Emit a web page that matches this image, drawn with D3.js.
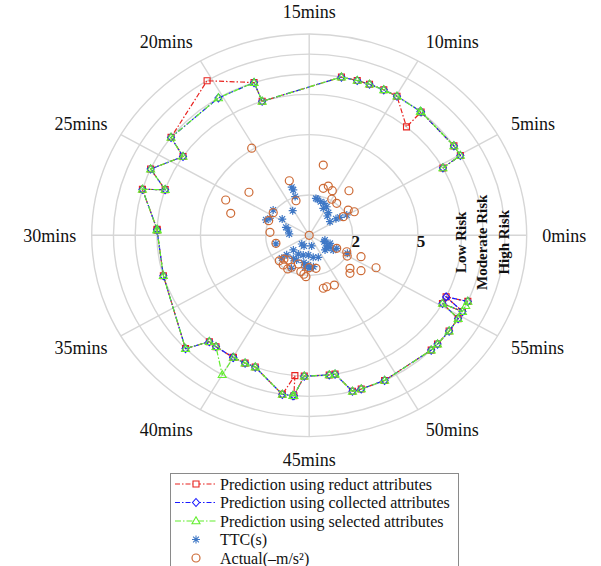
<!DOCTYPE html>
<html><head><meta charset="utf-8">
<script src="https://cdn.jsdelivr.net/npm/d3@7"></script>
<style>body{margin:0;background:#fff}svg{display:block}</style>
</head><body>
<svg id="chart" width="601" height="566"></svg>
<script>
// ---- data (time in minutes, radial value) ----
const eventTimes = [4.76,4.95,5.62,8.33,8.38,9.95,10.77,11.62,12.33,13.22,18.0,18.08,20.24,23.76,24.33,25.95,26.85,27.24,29.6,29.65,32.78,37.45,38.17,38.71,40.0,40.02,40.85,41.54,43.52,44.1,44.16,44.69,46.26,46.63,47.4,47.9,49.28,52.42,52.92,53.92,54.81,55.18,55.29,55.68,55.96];
const reductPred   = [7,8,8,8,7,8,8,8,8,8,7,8,9,8,7,8,7,8,7,7,7,8,7,7,7,7,7,7,8,7,8,7,7,7,8,8,8,8,8,8,8,7,8,7,8];
const collectedPred= [7,8,8,8,8,8,8,8,8,8,7,8,8,8,7,8,7,8,7,7,7,8,7,7,7,7,7,7,8,8,8,7,7,7,8,8,8,8,8,8,8,7,8,7,8];
const selectedPred = [7,8,8,8,8,8,8,8,8,8,7,8,8,8,7,8,7,8,7,7,7,8,7,7,8,7,7,7,8,8,8,7,7,7,8,8,8,8,8,8,8,7,8,8,8];
const ttcTimes  = [18.1,18.0,18.1,20.3,23.8,26.5,25.8,24.5,26.6,27.45,29.3,32.6,13.0,13.4,12.07,11.13,10.08,10.7,8.67,8.17,5.88,5.63,5.38,5.05,38.6,41.0,47.0,55.9,54.4,54.7,54.4,52.5,55.5,55.5,37.5,40.3,42.4,44.6,46.6,48.5,39.6,40.8,43.3,44.7,46.2,40.6,43.85,45.2,37.2,37.0,57.0,56.2,53.5];
const ttcValues = [2.52,2.37,2.03,1.44,2.08,2.13,1.99,1.48,1.14,1.0,0.92,1.59,1.83,1.86,1.75,1.73,1.63,1.49,1.43,1.27,1.17,1.48,1.67,2.0,0.55,0.58,0.54,0.76,0.96,1.13,1.33,1.03,1.42,1.97,1.03,1.06,1.02,0.98,1.11,1.17,1.36,1.36,1.38,1.48,1.57,1.83,1.6,1.64,1.42,1.7,0.76,1.04,1.03];
const actualTimes  = [20.24,13.25,18.11,23.72,25.91,27.19,24.3,18.24,29.21,32.43,26.45,0,12.41,11.71,10.73,8.41,9.99,8.58,5.83,4.91,5.08,55.78,55.99,55.39,53.14,52.47,53.93,47.31,47.92,49.18,55.49,54.9,37.1,37.6,38.65,38.5,41.8,39.9,40.5,43.0,44.3,43.8,46.8,44.95];
const actualValues = [5.07,3.55,2.86,3.5,4.22,3.77,2.0,1.82,1.81,1.58,2.0,0,2.42,2.6,2.46,2.87,2.07,2.03,2.19,2.38,1.82,1.91,2.61,3.47,2.49,2.66,2.96,2.71,2.68,2.73,1.42,2.03,1.87,1.66,1.56,1.9,1.51,1.94,1.78,1.85,2.06,1.95,1.67,1.61];
const timeTicks = [0,5,10,15,20,25,30,35,40,45,50,55];
const ringValues = [2,5,7,8,9,10];
const ringLabels = ["2","5","Low Risk","Moderate Risk","High Risk",""];
const legendLabels = ["Prediction using reduct attributes","Prediction using collected attributes","Prediction using selected attributes","TTC(s)","Actual(\u2013m/s\u00b2)"];

// ---- layout ----
const svg = d3.select("#chart");
const cx = 309.2, cy = 235.3;
const ang = d3.scaleLinear().domain([0,60]).range([0, 2*Math.PI]);
const rX = d3.scaleLinear().domain([0,10]).range([0,217.5]);
const rY = d3.scaleLinear().domain([0,10]).range([0,201.3]);
const px = (t,v) => cx + rX(v)*Math.cos(ang(t));
const py = (t,v) => cy - rY(v)*Math.sin(ang(t));
const serif = "'Liberation Serif','Times New Roman',serif";

const grid = svg.append("g");
grid.selectAll("ellipse").data(ringValues).enter().append("ellipse")
  .attr("cx",cx).attr("cy",cy).attr("rx",d=>rX(d)).attr("ry",d=>rY(d))
  .attr("fill","none").attr("stroke","#d6d6d6").attr("stroke-width",1.4);
grid.selectAll("line").data(timeTicks).enter().append("line")
  .attr("x1",cx).attr("y1",cy).attr("x2",d=>px(d,10)).attr("y2",d=>py(d,10))
  .attr("stroke","#d6d6d6").attr("stroke-width",1.4);

// time labels
svg.append("g").selectAll("text").data(timeTicks).enter().append("text")
  .attr("x",d=>cx + 233*Math.cos(ang(d)))
  .attr("y",d=>cy - 224*Math.sin(ang(d)))
  .attr("dy","0.35em")
  .attr("text-anchor",d=>{const c=Math.cos(ang(d)); return Math.abs(c)<0.1?"middle":(c>0?"start":"end");})
  .attr("font-family",serif).attr("font-size",18).attr("fill","#111")
  .text(d=>d+"mins");

// ring labels
const rl = svg.append("g");
ringValues.forEach((v,i)=>{
  if(!ringLabels[i]) return;
  if(v<=5){
    rl.append("text").attr("x",px(0,v)+3).attr("y",cy+6).attr("dy","0.35em")
      .attr("text-anchor","middle").attr("font-family",serif).attr("font-weight","bold")
      .attr("font-size",17).attr("fill","#111").text(ringLabels[i]);
  } else {
    rl.append("text").attr("transform",`translate(${px(0,v)-1},${cy+7}) rotate(-90)`)
      .attr("dy","0.35em").attr("text-anchor","middle").attr("font-family",serif)
      .attr("font-weight","bold").attr("font-size",15).attr("fill","#111").text(ringLabels[i]);
  }
});

// ---- series ----
const series = [
  {vals:reductPred, color:"#e8231f", dash:"5,2,1.5,2", marker:"square"},
  {vals:collectedPred, color:"#1a1aff", dash:"5,2,1.5,2", marker:"diamond"},
  {vals:selectedPred, color:"#62ee2e", dash:"6,2,1.5,2", marker:"triangle"}
];
function markerPath(type, x, y){
  if(type==="square") return `M${x-3},${y-3}h6v6h-6z`;
  if(type==="diamond") return `M${x},${y-4}L${x+3.5},${y}L${x},${y+4}L${x-3.5},${y}Z`;
  if(type==="triangle") return `M${x},${y-4.2}L${x+4},${y+2.8}L${x-4},${y+2.8}Z`;
  if(type==="star"){ const a=4, b=2.9;
    return `M${x-a},${y}H${x+a}M${x},${y-a}V${y+a}M${x-b},${y-b}L${x+b},${y+b}M${x-b},${y+b}L${x+b},${y-b}`; }
}
const lineGen = vals => d3.line().x((d,i)=>px(eventTimes[i],vals[i])).y((d,i)=>py(eventTimes[i],vals[i]));
series.forEach(s=>{
  const g = svg.append("g");
  g.append("path").datum(s.vals).attr("d",lineGen(s.vals)).attr("fill","none")
    .attr("stroke",s.color).attr("stroke-width",1.2).attr("stroke-dasharray",s.dash);
  g.selectAll("path.m").data(s.vals).enter().append("path").attr("class","m")
    .attr("d",(d,i)=>markerPath(s.marker,px(eventTimes[i],d),py(eventTimes[i],d)))
    .attr("fill","none").attr("stroke",s.color).attr("stroke-width",1.1);
});

// TTC stars
svg.append("g").selectAll("path").data(ttcValues).enter().append("path")
  .attr("d",(d,i)=>markerPath("star",px(ttcTimes[i],d),py(ttcTimes[i],d)))
  .attr("fill","none").attr("stroke","#3f78c6").attr("stroke-width",1.2);
// Actual circles
svg.append("g").selectAll("circle").data(actualValues).enter().append("circle")
  .attr("cx",(d,i)=>px(actualTimes[i],d)).attr("cy",(d,i)=>py(actualTimes[i],d)).attr("r",4)
  .attr("fill","none").attr("stroke","#cd6a35").attr("stroke-width",1.2);

// ---- legend ----
const lg = svg.append("g");
lg.append("rect").attr("x",170.5).attr("y",473.5).attr("width",288).attr("height",110)
  .attr("fill","#fff").attr("stroke","#8a8a8a").attr("stroke-width",1);
const legendItems = [
  {color:"#e8231f", dash:"5,2,1.5,2", marker:"square", line:true},
  {color:"#1a1aff", dash:"5,2,1.5,2", marker:"diamond", line:true},
  {color:"#62ee2e", dash:"6,2,1.5,2", marker:"triangle", line:true},
  {color:"#3f78c6", marker:"star", line:false},
  {color:"#cd6a35", marker:"circle", line:false}
];
legendItems.forEach((it,i)=>{
  const y = 484 + i*18.5;
  if(it.line) lg.append("line").attr("x1",175).attr("x2",217).attr("y1",y).attr("y2",y)
    .attr("stroke",it.color).attr("stroke-width",1.2).attr("stroke-dasharray",it.dash);
  if(it.marker==="circle") lg.append("circle").attr("cx",196).attr("cy",y).attr("r",4)
    .attr("fill","none").attr("stroke",it.color).attr("stroke-width",1.2);
  else lg.append("path").attr("d",markerPath(it.marker,196,y)).attr("fill","#fff")
    .attr("stroke",it.color).attr("stroke-width",1.1);
  lg.append("text").attr("x",220).attr("y",y).attr("dy","0.35em").attr("font-family",serif)
    .attr("font-size",16).attr("fill","#111").text(legendLabels[i]);
});
</script>
</body></html>
